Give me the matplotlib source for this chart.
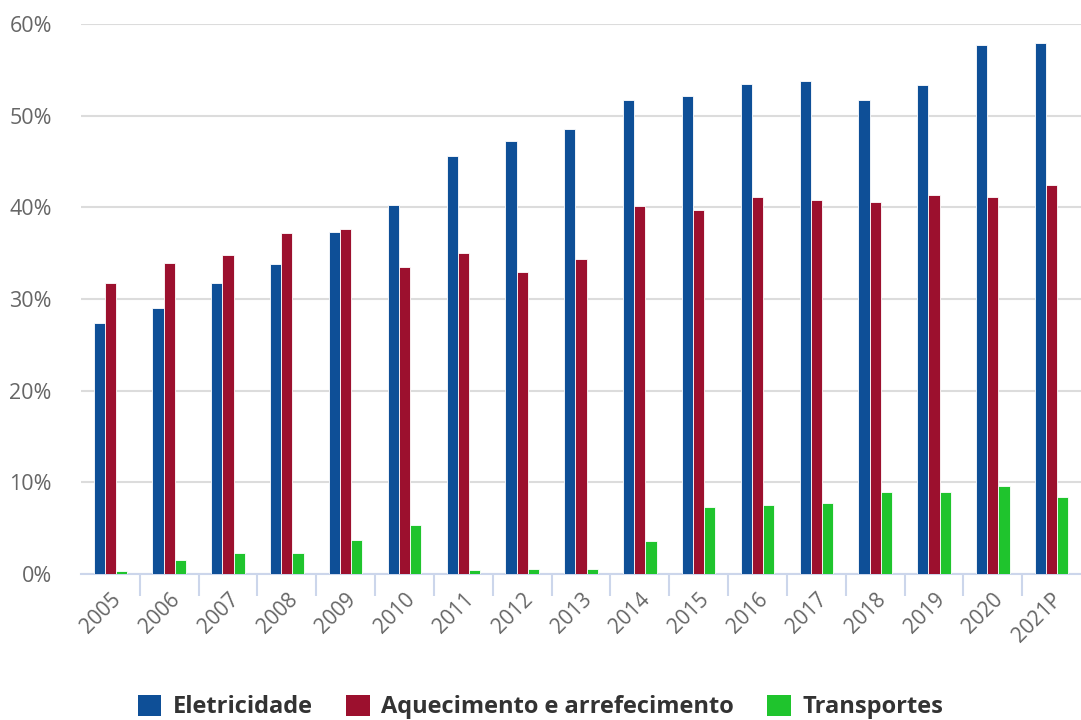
import numpy as np
import matplotlib.pyplot as plt
from matplotlib.patches import Patch

anos = ['2005', '2006', '2007', '2008', '2009', '2010', '2011', '2012', '2013',
        '2014', '2015', '2016', '2017', '2018', '2019', '2020', '2021P']
eletricidade = [27.4, 29.0, 31.8, 33.8, 37.3, 40.3, 45.6, 47.2, 48.6,
                51.7, 52.1, 53.5, 53.8, 51.7, 53.3, 57.7, 57.9]
aquecimento = [31.8, 33.9, 34.8, 37.2, 37.6, 33.5, 35.0, 32.9, 34.4,
               40.1, 39.7, 41.1, 40.8, 40.6, 41.3, 41.1, 42.4]
transportes = [0.3, 1.5, 2.3, 2.3, 3.7, 5.4, 0.4, 0.6, 0.6,
               3.6, 7.3, 7.5, 7.7, 8.9, 8.9, 9.6, 8.4]

series = ['Eletricidade', 'Aquecimento e arrefecimento', 'Transportes']
cores = ['#0e4f97', '#9c102e', '#1fc42d']

plt.rcParams['font.family'] = ['Open Sans', 'DejaVu Sans']

fig = plt.figure(figsize=(10.81, 7.2), dpi=100)
ax = fig.add_axes([81 / 1081, 1 - 574 / 720, 1 - 81 / 1081, (574 - 24) / 720])

x = np.arange(len(anos))
w = 0.19
for i, (vals, cor) in enumerate(zip([eletricidade, aquecimento, transportes], cores)):
    ax.bar(x + (i - 1) * w, vals, width=w, color=cor, edgecolor='white', linewidth=0.6, zorder=3)

ax.set_xlim(-0.5, len(anos) - 0.5)
ax.set_ylim(0, 60)
ax.set_yticks(range(0, 61, 10))
ax.set_yticklabels([f'{v}%' for v in range(0, 61, 10)], fontsize=15.5, color='#666666')
ax.yaxis.grid(True, color='#dcdcdc', linewidth=1.5, zorder=0)
ax.tick_params(axis='y', length=0, pad=21)

ax.set_xticks(x)
ax.set_xticklabels(anos, rotation=45, ha='right', va='top', rotation_mode='anchor',
                   fontsize=15, color='#666666')
ax.tick_params(axis='x', length=0, pad=11)
ax.set_xticks(np.arange(0.5, len(anos) - 0.5), minor=True)
ax.tick_params(axis='x', which='minor', length=16, width=1.5, color='#ccd6eb')

for s in ['top', 'right', 'left']:
    ax.spines[s].set_visible(False)
ax.spines['bottom'].set_color('#ccd6eb')
ax.spines['bottom'].set_linewidth(1.5)

handles = [Patch(facecolor=c, label=s) for s, c in zip(series, cores)]
fig.legend(handles=handles, loc='center', bbox_to_anchor=(0.5, 1 - 707 / 720), ncol=3,
           frameon=False, prop={'size': 17, 'weight': 'bold'}, labelcolor='#333333',
           handlelength=1.0, handleheight=1.0, handletextpad=0.5, columnspacing=1.4)

fig.savefig('out.png', dpi=100)
